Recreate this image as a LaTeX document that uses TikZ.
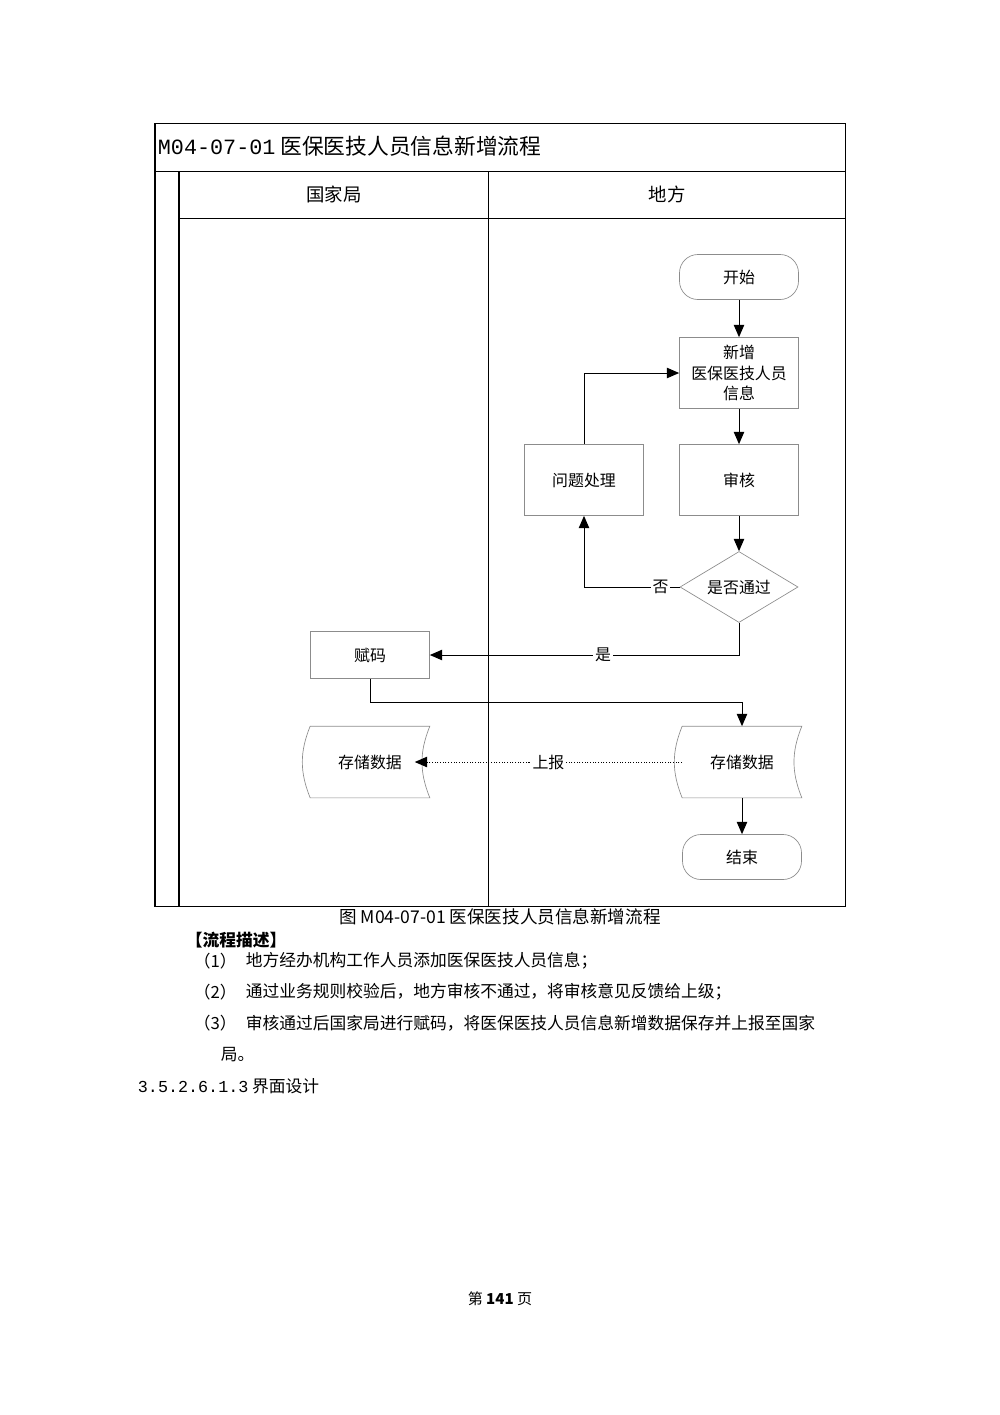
\documentclass[tikz,border=0pt]{standalone}
\usepackage{fontspec}
\setmainfont{Noto Sans CJK SC}
\newfontfamily\monofont{Liberation Mono}
\usetikzlibrary{positioning,arrows.meta,shapes.geometric}
\definecolor{boxline}{HTML}{8c8c8c}

\begin{document}
\begin{tikzpicture}[x=0.021cm, y=-0.021cm,
  task/.style={draw=boxline, fill=white, minimum width=119*0.021cm, minimum height=71*0.021cm, align=center, font=\fontsize{9.5}{12}\selectfont},
  term/.style={task, rounded corners=11pt, minimum height=45*0.021cm},
  store/.style={minimum width=119*0.021cm, minimum height=71*0.021cm, font=\fontsize{9.5}{12}\selectfont},
  check/.style={diamond, aspect=1.66, draw=boxline, fill=white, minimum width=118*0.021cm, minimum height=71*0.021cm, inner sep=0pt, font=\fontsize{9.5}{12}\selectfont},
  flow/.style={-{Triangle[length=2.6mm,width=2.2mm]}, semithick},
  lab/.style={fill=white, inner sep=1pt, font=\fontsize{9.5}{12}\selectfont},
  body/.style={anchor=west, font=\fontsize{10}{12}\selectfont},
]
\useasboundingbox (0,0) rectangle (1000,1415);
% frame and lanes
\draw[semithick] (155,123) rectangle (845,906);
\draw[semithick] (155,171) -- (845,171);
\draw[semithick] (179,218) -- (845,218);
\draw[semithick] (179,171) -- (179,906);
\draw[semithick] (488,171) -- (488,906);
\node[anchor=west, font=\fontsize{13}{15}\selectfont] (title) at (152,146) {{\monofont M04-07-01} 医保医技人员信息新增流程};
\node[font=\fontsize{11}{13}\selectfont] (lane1) at (334,194) {国家局};
\node[font=\fontsize{11}{13}\selectfont] (lane2) at (667,194) {地方};

% steps
\node[term] (start) at (739,277) {开始};
\node[task] (add) at (739,373) {新增\\医保医技人员\\信息};
\node[task] (audit) at (739,480) {审核};
\node[task] (fix) at (584,480) {问题处理};
\node[check] (pass) at (739,587) {是否通过};
\node[task, minimum height=47*0.021cm] (code) at (370,655) {赋码};
\node[store] (saveL) at (742,762) {存储数据};
\node[store] (saveG) at (370,762) {存储数据};
\node[term] (stop) at (742,857) {结束};
\foreach \s in {saveL,saveG}
  \draw[boxline] (\s.north west) -- (\s.north east) to[bend right=22] (\s.south east)
    -- (\s.south west) to[bend left=22] (\s.north west);

% connectors
\draw[flow] (start) -- (add);
\draw[flow] (add) -- (audit);
\draw[flow] (pass.west) -| node[lab, pos=0.1] {否} (fix.south);
\draw[flow] (fix.north) |- (add.west);
\draw[flow] (audit) -- (pass);
\draw[flow] (pass.south) |- node[lab, pos=0.72] {是} (code.east);
\coordinate (bend) at (370,702);
\draw[flow] (code.south) -- (bend) -| (saveL.north);
\draw[flow, densely dotted] (saveL.west) -- node[lab, pos=0.5] {上报} ([xshift=-9pt]saveG.east);
\draw[flow] (saveL.south) -- (stop);

% caption and description
\node[font=\fontsize{10.5}{12}\selectfont] (cap) at (500,917) {图 M04-07-01 医保医技人员信息新增流程};
\node[body, font=\bfseries\fontsize{10}{12}\selectfont] (desc) at (180,940) {【流程描述】};
\node[body] (n1) at (188,961) {（1）};
\node[body] (t1) at (240,961) {地方经办机构工作人员添加医保医技人员信息；};
\node[body] (n2) at (188,992) {（2）};
\node[body] (t2) at (240,992) {通过业务规则校验后，地方审核不通过，将审核意见反馈给上级；};
\node[body] (n3) at (188,1023) {（3）};
\node[body] (t3) at (240,1023) {审核通过后国家局进行赋码，将医保医技人员信息新增数据保存并上报至国家};
\node[body] (t4) at (215,1055) {局。};
\node[body] (sec) at (132,1086) {{\monofont 3.5.2.6.1.3} 界面设计};
\node[font=\fontsize{9}{11}\selectfont] (page) at (500,1299) {第 \textbf{141} 页};
\end{tikzpicture}
\end{document}
